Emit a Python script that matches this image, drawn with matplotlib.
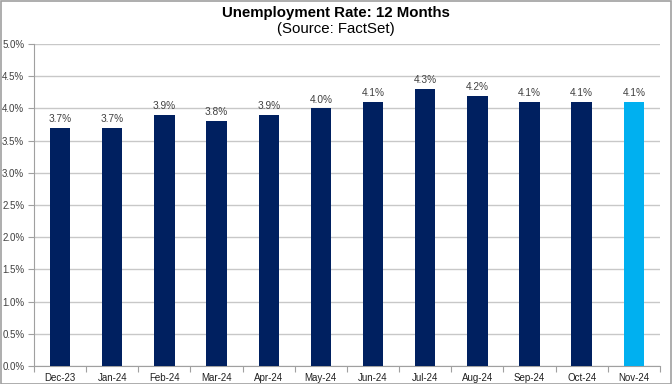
import matplotlib
matplotlib.use("Agg")
import matplotlib.pyplot as plt
from matplotlib.ticker import FixedLocator, PercentFormatter
import numpy as np

months = ["Dec-23", "Jan-24", "Feb-24", "Mar-24", "Apr-24", "May-24",
          "Jun-24", "Jul-24", "Aug-24", "Sep-24", "Oct-24", "Nov-24"]
rates = [3.7, 3.7, 3.9, 3.8, 3.9, 4.0, 4.1, 4.3, 4.2, 4.1, 4.1, 4.1]
yticks = [0.0, 0.5, 1.0, 1.5, 2.0, 2.5, 3.0, 3.5, 4.0, 4.5, 5.0]

plt.rcParams['font.family'] = ['Liberation Sans', 'DejaVu Sans']

fig = plt.figure(figsize=(6.72, 3.84), dpi=100)
fig.patch.set_facecolor("white")
fig.patches.append(plt.Rectangle((0.001, 0.001), 0.997, 0.996, transform=fig.transFigure,
                                 fill=False, edgecolor="#a0a0a0", linewidth=1.2))

ax = fig.add_axes([0.0506, 0.0469, 0.9314, 0.8385])
x = np.arange(len(months))
colors = ["#002060"] * (len(months) - 1) + ["#00b0f0"]
bars = ax.bar(x, rates, width=0.39, color=colors, zorder=3)
for xi, v in zip(x, rates):
    ax.text(xi, v + 0.06, f"{v:.1f}%", ha="center", va="bottom", fontsize=7.3, color="#404040")

ax.set_xlim(-0.5, len(months) - 0.5)
ax.set_ylim(0, 5.0)
ax.set_yticks(yticks)
ax.yaxis.set_major_formatter(PercentFormatter(decimals=1))
ax.set_xticks(x)
ax.set_xticklabels(months)
ax.xaxis.set_minor_locator(FixedLocator(np.arange(-0.5, len(months), 1.0)))
ax.tick_params(axis="x", which="major", length=0, labelsize=7.0, labelcolor="#202020", pad=5)
ax.tick_params(axis="x", which="minor", length=4, color="#a0a0a0", width=0.8)
ax.tick_params(axis="y", length=4, color="#a0a0a0", width=0.8, labelsize=7.0, labelcolor="#404040", pad=3)
ax.grid(axis="y", color="#c8c8c8", linewidth=1.0, zorder=0)
for s in ["top", "right"]:
    ax.spines[s].set_visible(False)
ax.spines["left"].set_color("#a0a0a0")
ax.spines["bottom"].set_color("#a0a0a0")

fig.text(0.5, 0.965, "Unemployment Rate: 12 Months", ha="center", va="center",
         fontsize=10.8, fontweight="bold", color="black")
fig.text(0.5, 0.924, "(Source: FactSet)", ha="center", va="center",
         fontsize=10.8, color="black")

fig.savefig("out.png", dpi=100)
